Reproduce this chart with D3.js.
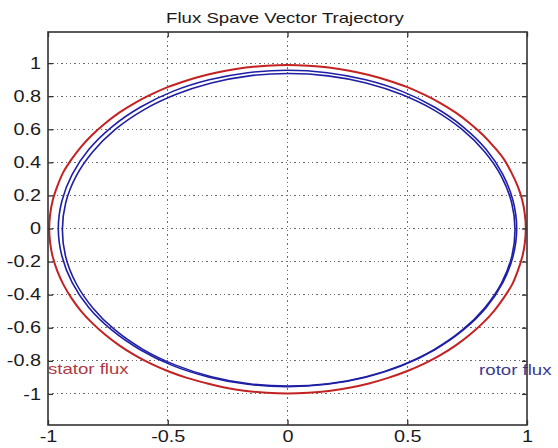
<!DOCTYPE html>
<html>
<head>
<meta charset="utf-8">
<script src="https://cdn.jsdelivr.net/npm/d3@7"></script>
<style>
  html, body { margin: 0; padding: 0; background: #fff; }
  svg { display: block; font-family: "Liberation Sans", Arial, sans-serif; }
</style>
</head>
<body>
<svg id="chart" width="558" height="448"></svg>
<script>
// Stator flux trajectory (alpha, beta components)
const statorX = [0.995,0.991,0.980,0.961,0.935,0.904,0.862,0.815,0.762,0.704,0.640,0.571,0.498,0.420,0.340,0.258,0.173,0.087,
                 0.000,-0.087,-0.173,-0.258,-0.340,-0.420,-0.498,-0.571,-0.640,-0.704,-0.762,-0.815,-0.862,-0.902,-0.937,-0.961,-0.980,-0.991,
                 -0.995,-0.991,-0.980,-0.961,-0.935,-0.902,-0.862,-0.815,-0.762,-0.704,-0.640,-0.571,-0.498,-0.420,-0.340,-0.258,-0.173,-0.087,
                 0.000,0.087,0.173,0.258,0.340,0.420,0.498,0.571,0.640,0.704,0.762,0.815,0.862,0.902,0.937,0.961,0.980,0.991];
const statorY = [0.000,0.086,0.172,0.256,0.338,0.418,0.494,0.567,0.635,0.699,0.757,0.809,0.856,0.895,0.928,0.954,0.973,0.984,
                 0.988,0.984,0.973,0.954,0.928,0.895,0.856,0.809,0.757,0.699,0.635,0.567,0.494,0.418,0.338,0.256,0.172,0.086,
                 0.000,-0.087,-0.173,-0.258,-0.341,-0.421,-0.499,-0.572,-0.641,-0.705,-0.764,-0.817,-0.863,-0.903,-0.935,-0.963,-0.982,-0.993,
                 -0.997,-0.993,-0.982,-0.963,-0.937,-0.903,-0.863,-0.817,-0.764,-0.705,-0.641,-0.572,-0.499,-0.421,-0.341,-0.258,-0.173,-0.087];

// Rotor flux trajectory: first turn (settling) and steady-state turn
const rotorX1 = [0.950,0.936,0.893,0.823,0.729,0.612,0.477,0.328,0.169,0.005,-0.159,-0.318,-0.467,-0.602,-0.719,-0.813,-0.883,-0.926,-0.940,-0.926,-0.883,-0.813,-0.719,-0.602,-0.467,-0.318,-0.159,0.005,0.169,0.328,0.477,0.612,0.729,0.823,0.893,0.936];
const rotorY1 = [-0.008,0.156,0.315,0.464,0.599,0.716,0.810,0.880,0.923,0.937,0.923,0.880,0.810,0.716,0.599,0.464,0.315,0.156,-0.008,-0.172,-0.331,-0.480,-0.615,-0.732,-0.826,-0.896,-0.939,-0.953,-0.939,-0.896,-0.826,-0.732,-0.615,-0.480,-0.331,-0.172];
const rotorX2 = [0.957,0.942,0.899,0.829,0.733,0.615,0.479,0.327,0.166,0.000,-0.166,-0.327,-0.479,-0.615,-0.733,-0.829,-0.899,-0.942,-0.957,-0.942,-0.899,-0.829,-0.733,-0.615,-0.479,-0.327,-0.166,0.000,0.166,0.327,0.479,0.615,0.733,0.829,0.899,0.942];
const rotorY2 = [0.000,0.166,0.327,0.479,0.615,0.733,0.829,0.899,0.942,0.957,0.942,0.899,0.829,0.733,0.615,0.479,0.327,0.166,0.000,-0.166,-0.327,-0.479,-0.615,-0.733,-0.829,-0.899,-0.942,-0.957,-0.942,-0.899,-0.829,-0.733,-0.615,-0.479,-0.327,-0.166];

const xTicks = [-1, -0.5, 0, 0.5, 1];
const yTicks = [-1, -0.8, -0.6, -0.4, -0.2, 0, 0.2, 0.4, 0.6, 0.8, 1];
const titleText = "Flux Spave Vector Trajectory";
const labels = [
  { text: "stator flux", x: -1, y: -0.88, color: "#b03a44" },
  { text: "rotor flux", x: 0.80, y: -0.885, color: "#3a3a94" }
];

const svg = d3.select("#chart");
const plotLeft = 48, plotRight = 527, plotTop = 32, plotBottom = 425;
const WIDEN = 1.24; // horizontal stretch applied to all text

const x = d3.scaleLinear().domain([-1, 1]).range([plotLeft, plotRight]);
const y = d3.scaleLinear().domain([-1.188, 1.188]).range([plotBottom, plotTop]);

function widen(sel) {
  sel.each(function () {
    const w = this.getComputedTextLength();
    if (w > 0) {
      d3.select(this).attr("textLength", w * WIDEN).attr("lengthAdjust", "spacingAndGlyphs");
    }
  });
}

svg.append("rect").attr("width", 558).attr("height", 448).attr("fill", "#fff");

// dotted grid
const grid = svg.append("g").attr("stroke", "#6a6a6a").attr("stroke-width", 1)
  .attr("stroke-dasharray", "1.4,3")
  .attr("shape-rendering", "crispEdges");
grid.selectAll("line.gx").data(xTicks.filter(d => d > -1 && d < 1)).join("line")
  .attr("class", "gx")
  .attr("x1", d => x(d)).attr("x2", d => x(d)).attr("y1", plotTop).attr("y2", plotBottom);
grid.selectAll("line.gy").data(yTicks).join("line")
  .attr("class", "gy")
  .attr("y1", d => y(d)).attr("y2", d => y(d)).attr("x1", plotLeft).attr("x2", plotRight);

// trajectories
const smooth = d3.line().x(d => x(d[0])).y(d => y(d[1])).curve(d3.curveCatmullRomClosed);

const stator = statorX.map((v, i) => [v, statorY[i]]);
svg.append("path").attr("d", smooth(stator)).attr("fill", "none")
  .attr("stroke", "#c42222").attr("stroke-width", 2).attr("stroke-linejoin", "round");

const rotor1 = rotorX1.map((v, i) => [v, rotorY1[i]]);
const rotor2 = rotorX2.map((v, i) => [v, rotorY2[i]]);
[rotor1, rotor2].forEach(pts => {
  svg.append("path").attr("d", smooth(pts)).attr("fill", "none")
    .attr("stroke", "#1f1fa6").attr("stroke-width", 1.6);
});

// series labels (sit beneath the axes box)
svg.selectAll("text.lbl").data(labels).join("text")
  .attr("class", "lbl")
  .attr("x", d => x(d.x)).attr("y", d => y(d.y))
  .attr("font-size", 15).attr("fill", d => d.color)
  .text(d => d.text)
  .call(widen);

// axes box with inward ticks on all four sides
const fmt = d => String(d);
const xb = d3.axisBottom(x).tickValues(xTicks).tickSize(-5).tickPadding(6).tickFormat(fmt);
const xt = d3.axisTop(x).tickValues(xTicks).tickSize(-5).tickFormat("");
const yl = d3.axisLeft(y).tickValues(yTicks).tickSize(-5).tickPadding(7).tickFormat(fmt);
const yr = d3.axisRight(y).tickValues(yTicks).tickSize(-5).tickFormat("");

const styleAxis = g => {
  g.select(".domain").remove();
  g.selectAll(".tick line").attr("stroke", "#333").attr("stroke-width", 1.3);
  g.selectAll(".tick text").attr("fill", "#1a1a1a").attr("font-size", 16)
    .attr("font-family", "'Liberation Sans', Arial, sans-serif")
    .call(widen);
};
svg.append("g").attr("transform", `translate(0,${plotBottom})`).call(xb).call(styleAxis);
svg.append("g").attr("transform", `translate(0,${plotTop})`).call(xt).call(styleAxis);
svg.append("g").attr("transform", `translate(${plotLeft},0)`).call(yl).call(styleAxis);
svg.append("g").attr("transform", `translate(${plotRight},0)`).call(yr).call(styleAxis);

svg.append("rect").attr("x", plotLeft).attr("y", plotTop)
  .attr("width", plotRight - plotLeft).attr("height", plotBottom - plotTop)
  .attr("fill", "none").attr("stroke", "#333").attr("stroke-width", 1.6);

// title
svg.append("text").attr("x", 285).attr("y", 23)
  .attr("text-anchor", "middle").attr("font-size", 15).attr("fill", "#1a1a1a")
  .text(titleText)
  .call(widen);
</script>
</body>
</html>
